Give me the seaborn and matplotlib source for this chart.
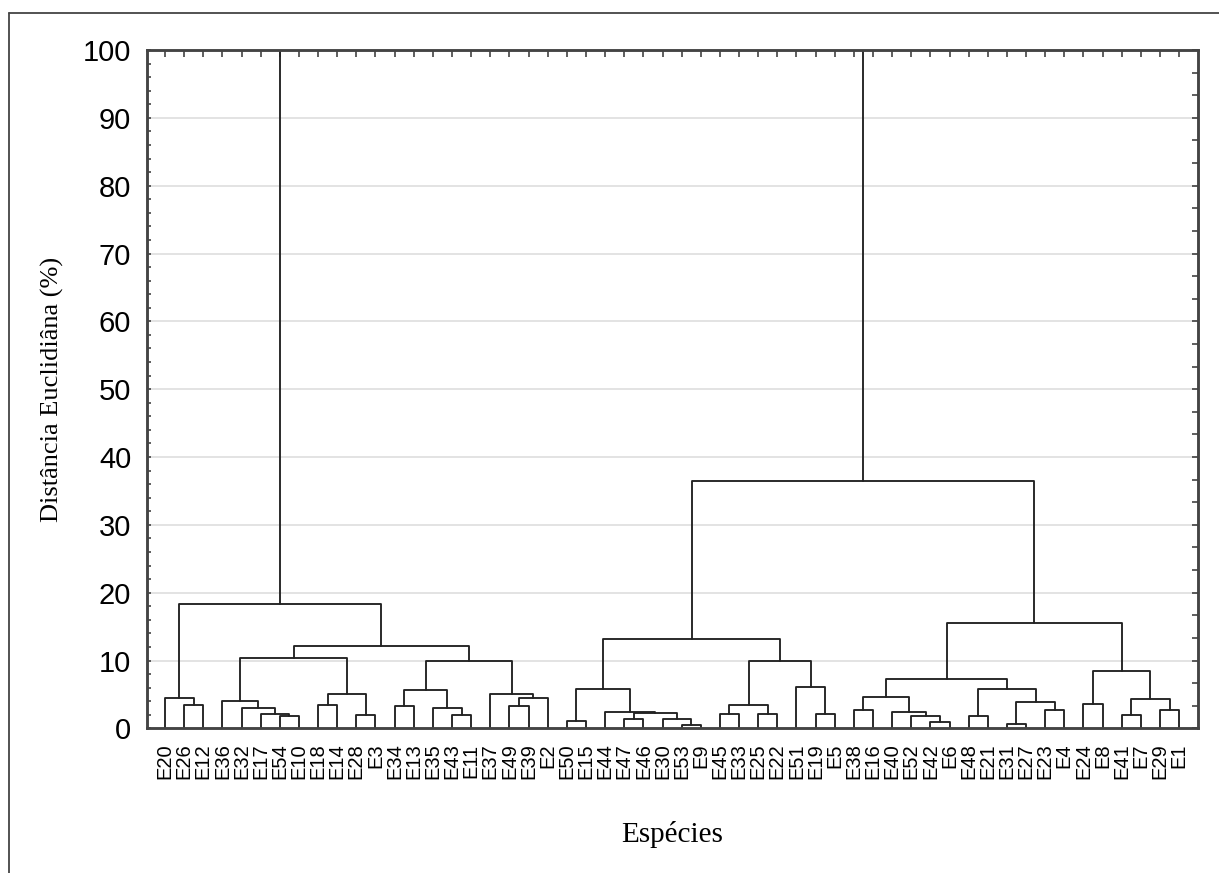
import matplotlib.pyplot as plt
import numpy as np
import pandas as pd
import seaborn as sns
from matplotlib.lines import Line2D
from matplotlib.ticker import MultipleLocator

# leaf order as drawn on the x axis
LEAVES = [
    "E20", "E26", "E12", "E36", "E32", "E17", "E54", "E10", "E18", "E14",
    "E28", "E3", "E34", "E13", "E35", "E43", "E11", "E37", "E49", "E39",
    "E2", "E50", "E15", "E44", "E47", "E46", "E30", "E53", "E9", "E45",
    "E33", "E25", "E22", "E51", "E19", "E5", "E38", "E16", "E40", "E52",
    "E42", "E6", "E48", "E21", "E31", "E27", "E23", "E4", "E24", "E8",
    "E41", "E7", "E29", "E1",
]

# merges, scipy-like: node "n<k>" is created by merge k
MERGE_LEFT = [
    "E26", "E20", "E54", "E17", "E32", "E36", "E18", "E28", "n6", "n5",
    "E34", "E43", "E35", "n10", "E49", "n14", "E37", "n13", "n9", "n1",
    "E50", "E47", "E53", "E30", "n21", "E44", "n20", "E45", "E25", "n27",
    "E19", "E51", "n29", "n26", "E38", "E42", "E52", "E40", "n34", "E48",
    "E31", "E23", "n40", "n39", "n38", "E24", "E41", "E29", "n46", "n45",
    "n44", "n33", "n19",
]
MERGE_RIGHT = [
    "E12", "n0", "E10", "n2", "n3", "n4", "E14", "E3", "n7", "n8",
    "E13", "E11", "n11", "n12", "E39", "E2", "n15", "n16", "n17", "n18",
    "E15", "E46", "E9", "n22", "n23", "n24", "n25", "E33", "E22", "n28",
    "E5", "n30", "n31", "n32", "E16", "E6", "n35", "n36", "n37", "E21",
    "E27", "E4", "n41", "n42", "n43", "E8", "E7", "E1", "n47", "n48",
    "n49", "n50", "n51",
]
MERGE_HEIGHT = [
    3.4, 4.45, 1.77, 2.17, 3.05, 4.0, 3.44, 2.0, 5.06, 10.4,
    3.24, 2.0, 3.05, 5.7, 3.24, 4.47, 5.1, 9.93, 12.1, 18.4,
    1.08, 1.4, 0.5, 1.35, 2.3, 2.4, 5.75, 2.06, 2.17, 3.5,
    2.17, 6.1, 9.88, 13.1, 2.65, 0.93, 1.81, 2.4, 4.62, 1.81,
    0.69, 2.65, 3.83, 5.75, 7.33, 3.64, 2.0, 2.65, 4.28, 8.4,
    15.6, 36.5, 100.0,
]

Y_TICKS = np.arange(0, 101, 10)


def build_segments() -> pd.DataFrame:
    pos = {name: float(i) for i, name in enumerate(LEAVES)}
    height = {name: 0.0 for name in LEAVES}
    rows = []
    for k, (a, b, h) in enumerate(zip(MERGE_LEFT, MERGE_RIGHT, MERGE_HEIGHT)):
        xa, xb = pos[a], pos[b]
        for x, y in [(xa, height[a]), (xa, h), (xb, h), (xb, height[b])]:
            rows.append({"seg": k, "x": x, "y": y})
        pos[f"n{k}"] = (xa + xb) / 2
        height[f"n{k}"] = h
    return pd.DataFrame(rows)


sns.set_theme(style="white")
plt.rcParams["font.family"] = ["Liberation Sans", "DejaVu Sans"]
plt.rcParams["text.color"] = "black"
plt.rcParams["axes.labelcolor"] = "black"
plt.rcParams["xtick.labelcolor"] = "black"
plt.rcParams["ytick.labelcolor"] = "black"

fig = plt.figure(figsize=(12.19, 8.73), dpi=100)
ax = fig.add_axes([0.1203, 0.1657, 0.8627, 0.777])

for y in Y_TICKS[1:-1]:
    ax.axhline(y, color="#e0e0e0", linewidth=1.3, zorder=0)

seg_df = build_segments()
sns.lineplot(
    data=seg_df,
    x="x",
    y="y",
    units="seg",
    estimator=None,
    sort=False,
    color="#222222",
    linewidth=1.35,
    legend=False,
    ax=ax,
)

ax.set_xlim(-0.96, 54.0)
ax.set_ylim(0, 100)
ax.set_xticks(range(len(LEAVES)), LEAVES, rotation=90, fontsize=14.5)
ax.set_yticks(Y_TICKS, [str(v) for v in Y_TICKS], fontsize=21)
ax.yaxis.set_minor_locator(MultipleLocator(2))
ax.tick_params(axis="x", bottom=False, top=True, labeltop=False,
               direction="in", length=5, width=1.1, color="#333333", pad=11)
ax.tick_params(axis="y", which="both", left=True, right=False,
               direction="in", length=3, width=1.1, color="#333333", pad=11)
for lbl in ax.get_xticklabels():
    lbl.set_va("top")

# right side ticks are spaced differently in the original
ax2 = ax.twinx()
ax2.set_ylim(0, 100)
ax2.set_yticks(np.arange(0, 100.01, 10 / 3))
ax2.tick_params(axis="y", direction="in", length=4, width=1.1,
                color="#333333", labelright=False)
for a in (ax, ax2):
    for sp in a.spines.values():
        sp.set_color("#444444")
        sp.set_linewidth(1.8)

ax.set_xlabel("Espécies", family="Liberation Serif", fontsize=21,
              labelpad=30, color="black")
ax.set_ylabel("Distância Euclidiâna (%)", family="Liberation Serif",
              fontsize=19, labelpad=14, color="black")

# outer frame (top and left only)
fig.add_artist(Line2D([9 / 1219, 1.0], [1 - 13 / 873] * 2,
                      transform=fig.transFigure, color="#444444", lw=1.3))
fig.add_artist(Line2D([9 / 1219] * 2, [0.0, 1 - 13 / 873],
                      transform=fig.transFigure, color="#444444", lw=1.3))

fig.savefig("out.png", dpi=100)
